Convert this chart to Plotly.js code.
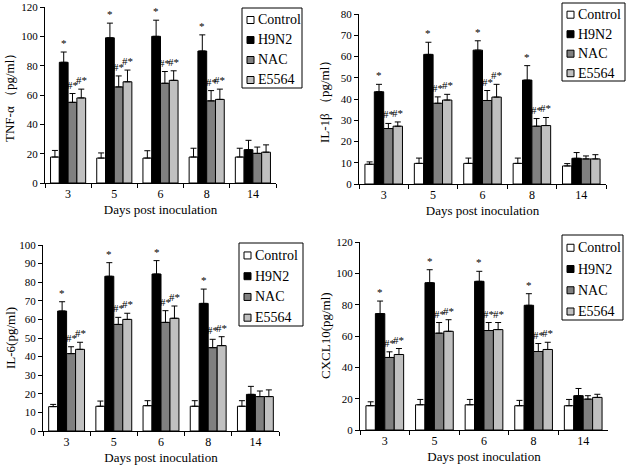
<!DOCTYPE html>
<html>
<head>
<meta charset="utf-8">
<script src="https://cdn.plot.ly/plotly-3.0.1.min.js"></script>
<style>
  body { margin: 0; background: #fff; }
  #myPlot { width: 626px; height: 471px; }
</style>
</head>
<body>
<div id="myPlot"></div>
<script>
// ======================== data =========================
const days = ["3", "5", "6", "8", "14"];
const groups = ["Control", "H9N2", "NAC", "E5564"];
const barColors = ["#ffffff", "#000000", "#808080", "#c0c0c0"];

// rows: Control, H9N2, NAC, E5564
const tnfMean = [
  [17.7, 17, 17, 17.7, 17.7],
  [82.3, 99, 100, 90, 22.7],
  [55, 65.5, 68, 56, 20.2],
  [58, 69, 70, 57, 21]
];
const tnfErr = [
  [4.5, 3.5, 5, 6, 6],
  [7, 10, 11, 11, 6.4],
  [6, 7.5, 8, 7, 4.3],
  [6, 8, 6.5, 7, 5]
];

const il1Mean = [
  [9.3, 9.7, 9.7, 9.7, 8.5],
  [43.4, 61, 63, 48.9, 12.1],
  [26.1, 38, 39.3, 27.2, 11.8],
  [27.2, 39.5, 40.9, 27.5, 11.8]
];
const il1Err = [
  [1.1, 2.5, 2.5, 2.5, 1.1],
  [3.5, 5.7, 4.4, 6.8, 2.7],
  [2.4, 3, 4.7, 3.6, 1.4],
  [2, 2.7, 6, 3.8, 2]
];

const il6Mean = [
  [13.1, 13.3, 13.6, 13.3, 13.3],
  [64.5, 83.2, 84.4, 68.6, 19.7],
  [41.6, 57.3, 58.4, 44.8, 18.5],
  [43.9, 60, 60.6, 45.9, 18.5]
];
const il6Err = [
  [1.2, 2.8, 2.7, 3, 3],
  [5, 7.3, 7.2, 7.7, 4.3],
  [3.7, 3.8, 6.3, 4.5, 3],
  [3.8, 3.3, 6.6, 4.8, 3.6]
];

const cxclMean = [
  [15.5, 16.1, 16.1, 15.5, 15.5],
  [74.3, 94, 94.9, 79.6, 21.9],
  [46.3, 61.8, 63.5, 50.1, 19.7],
  [48.2, 63, 64.1, 51.4, 20.8]
];
const cxclErr = [
  [2.5, 3.4, 3.4, 3.4, 4],
  [8, 8.3, 6.4, 7.4, 4.6],
  [3.6, 6.8, 5.1, 5.1, 2.2],
  [3.8, 7.4, 4.5, 4.6, 2]
];

// significance marks per group (same in all four panels)
const sigMarks = [
  ["", "", "", "", ""],
  ["*", "*", "*", "*", ""],
  ["#*", "#*", "#*", "#*", ""],
  ["#*", "#*", "#*", "#*", ""]
];

const yTitles = ["TNF-α （pg/ml）", "IL-1β （pg/ml）", "IL-6(pg/ml)", "CXCL10(pg/ml)"];
const xTitle = "Days post inoculation";
const yMax = [120, 80, 100, 120];
const yStep = [20, 10, 10, 20];

// ======================== layout helpers =========================
const W = 626, H = 471;
const FONT = "Liberation Serif, 'DejaVu Serif', serif";
const BARGAP = 0.24;

// plot boxes in pixels [left, right, top, bottom]
const boxes = [
  [45, 276, 7, 183],
  [359, 606, 14, 184],
  [43, 279, 245, 431],
  [360, 608, 242, 430]
];
// legend boxes in pixels [left, top, right, bottom]
const legendBoxes = [
  [242, 8, 302, 88],
  [562, 3, 625, 81],
  [239, 243, 303, 326],
  [562, 235, 623, 320]
];
// y title centre x in pixels
const yTitleX = [10, 325, 10, 325];

const means = [tnfMean, il1Mean, il6Mean, cxclMean];
const errs = [tnfErr, il1Err, il6Err, cxclErr];

const px = v => v / W;
const py = v => 1 - v / H;
const txt = size => ({family: FONT, size: size, color: "#000"});

let data = [];
let annotations = [];
let shapes = [];
let layout = {
  width: W, height: H,
  margin: {l: 0, r: 0, t: 0, b: 0},
  paper_bgcolor: "#fff",
  plot_bgcolor: "#fff",
  font: txt(12),
  barmode: "group",
  bargap: BARGAP,
  bargroupgap: 0,
  showlegend: false
};

for (let p = 0; p < 4; p++) {
  const sfx = p === 0 ? "" : String(p + 1);
  const xa = "x" + sfx, ya = "y" + sfx;
  const b = boxes[p];

  layout["xaxis" + sfx] = {
    domain: [px(b[0]), px(b[1])],
    anchor: ya,
    type: "category",
    showline: true, linecolor: "#000", linewidth: 1,
    ticks: "outside", ticklen: 4, tickcolor: "#000",
    tickson: "boundaries",
    showgrid: false, zeroline: false,
    tickfont: txt(12),
    title: {text: xTitle, font: txt(13), standoff: 4},
    automargin: false
  };
  layout["yaxis" + sfx] = {
    domain: [py(b[3]), py(b[2])],
    anchor: xa,
    range: [0, yMax[p]],
    dtick: yStep[p],
    showline: true, linecolor: "#000", linewidth: 1,
    ticks: "outside", ticklen: 4, tickcolor: "#000",
    showgrid: false, zeroline: false,
    tickfont: txt(11),
    automargin: false
  };

  // y axis title
  annotations.push({
    xref: "paper", yref: "paper",
    x: px(yTitleX[p]), y: py((b[2] + b[3]) / 2),
    text: yTitles[p], textangle: -90, showarrow: false,
    xanchor: "center", yanchor: "middle",
    font: txt(13)
  });

  // legend: framed box, small swatches, labels
  const lb = legendBoxes[p];
  shapes.push({
    type: "rect", xref: "paper", yref: "paper",
    x0: px(lb[0]), x1: px(lb[2]), y0: py(lb[3]), y1: py(lb[1]),
    line: {color: "#000", width: 1}, fillcolor: "#fff", layer: "above"
  });
  const rowH = (lb[3] - lb[1]) / 4;

  for (let g = 0; g < 4; g++) {
    const zeros = days.map(() => 0);
    data.push({
      type: "bar",
      x: days,
      y: means[p][g],
      name: groups[g],
      xaxis: xa, yaxis: ya,
      marker: {color: barColors[g], line: {color: "#000", width: 1}},
      error_y: {
        type: "data", symmetric: false,
        array: errs[p][g], arrayminus: zeros,
        color: "#000", thickness: 1, width: 3
      }
    });

    const cy = lb[1] + rowH * (g + 0.6);
    shapes.push({
      type: "rect", xref: "paper", yref: "paper",
      x0: px(lb[0] + 5), x1: px(lb[0] + 12), y0: py(cy + 3.5), y1: py(cy - 3.5),
      line: {color: "#000", width: 1}, fillcolor: barColors[g], layer: "above"
    });
    annotations.push({
      xref: "paper", yref: "paper",
      x: px(lb[0] + 14), y: py(cy),
      text: groups[g], showarrow: false,
      xanchor: "left", yanchor: "middle",
      font: txt(14)
    });

    // significance marks above the error bars
    const off = (g - 1.5) * (1 - BARGAP) / 4;
    days.forEach((d, i) => {
      const t = sigMarks[g][i];
      if (!t) return;
      annotations.push({
        xref: xa, yref: ya,
        x: i + off, y: means[p][g][i] + errs[p][g][i],
        text: t, showarrow: false,
        xanchor: "center", yanchor: "bottom", yshift: 1,
        font: txt(11)
      });
    });
  }
}
layout.annotations = annotations;
layout.shapes = shapes;

Plotly.newPlot("myPlot", data, layout, {displayModeBar: false, staticPlot: true});
</script>
</body>
</html>
